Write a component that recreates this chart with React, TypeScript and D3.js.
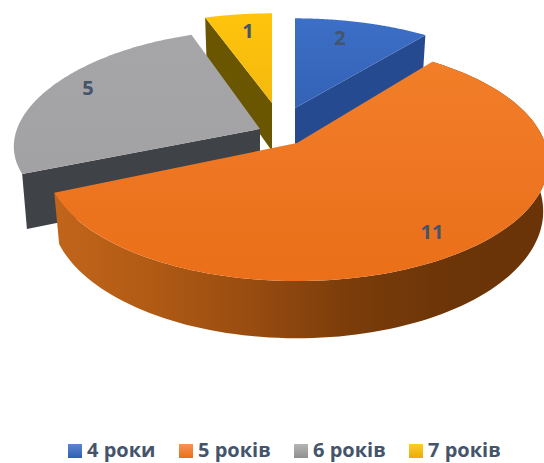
import React from "react";
import * as d3 from "d3";

const categories = ["4 роки", "5 років", "6 років", "7 років"];
const values = [2, 11, 5, 1];

const WIDTH = 544;
const HEIGHT = 463;
const BOTTOM_SHRINK = 0.98;
const TEXT = "#44546a";
const FONT = "'Open Sans', Lato, sans-serif";

// one projection per exploded slice: apex on the page and the horizontal / vertical radii
const apexX = [295, 297, 260, 272];
const apexY = [108, 143, 129, 103];
const radiusX = [239, 248, 243, 237];
const radiusY = [104, 116, 108, 104];
const perspectiveX = [0.16, 0.16, 0.16, 0.16];
const perspectiveY = [0.16, 0.16, 0.09, 0.16];
const depth = [48, 48, 53, 48];
const topFill = ["url(#blueTop)", "url(#orangeTop)", "url(#grayTop)", "url(#yellowTop)"];
const faceFill = ["#264a90", "#8a4510", "#3f4347", "#6a5500"];
const labelX = [340, 432, 88, 248];
const labelY = [45, 239, 95, 38];
const drawOrder = [3, 0, 2, 1];

const legendSwatchX = [68, 179, 294, 409];
const legendTextX = [87, 198, 313, 428];
const legendFill = ["url(#blueKey)", "url(#orangeKey)", "url(#grayKey)", "url(#yellowKey)"];

const arcs = d3.pie<number>().sort(null).startAngle(0).endAngle(2 * Math.PI)(values);

type Pt = [number, number];

function project(i: number, angle: number, r: number, bottom: boolean): Pt {
  const X = r * Math.sin(angle);
  const Y = r * Math.cos(angle);
  const wx = 1 + perspectiveX[i] * Y;
  const wy = 1 + perspectiveY[i] * Y;
  const k = bottom ? BOTTOM_SHRINK : 1;
  const sx = apexX[i] + (k * radiusX[i] * X) / wx;
  const sy = apexY[i] - (radiusY[i] * Y) / wy + (bottom ? depth[i] / wy : 0);
  return [sx, sy];
}

function rim(i: number, from: number, to: number, bottom: boolean): Pt[] {
  return d3.range(0, 121).map((n) => project(i, from + ((to - from) * n) / 120, 1, bottom));
}

const line = d3.line<Pt>().curve(d3.curveLinear);

function polygon(points: Pt[]): string {
  return (line(points) ?? "") + "Z";
}

function Grad({ id, stops, x1 = 0, y1 = 0, x2 = 0, y2 = 1 }: { id: string; stops: string[]; x1?: number; y1?: number; x2?: number; y2?: number }) {
  return (
    <linearGradient id={id} x1={x1} y1={y1} x2={x2} y2={y2}>
      {stops.map((c, i) => (
        <stop key={i} offset={i / (stops.length - 1)} stopColor={c} />
      ))}
    </linearGradient>
  );
}

export default function App() {
  return (
    <svg
      width={WIDTH}
      height={HEIGHT}
      viewBox={`0 0 ${WIDTH} ${HEIGHT}`}
      style={{ position: "absolute", left: 0, top: 0, display: "block", background: "#fff" }}
    >
      <defs>
        <Grad id="blueTop" stops={["#3c6fc6", "#3362b6"]} />
        <Grad id="orangeTop" stops={["#f27e28", "#ee7622", "#ea6f18"]} />
        <Grad id="grayTop" stops={["#a6a6a8", "#a2a1a3"]} />
        <Grad id="yellowTop" stops={["#ffc40c", "#f3b90e"]} />
        <Grad id="orangeWall" x1={0} x2={1} y2={0} stops={["#c2651b", "#b05a14", "#984c10", "#7a3c0a", "#6c3508", "#6a3408"]} />
        <Grad id="blueKey" stops={["#5b85cf", "#2f5fb4"]} />
        <Grad id="orangeKey" stops={["#f4935a", "#ec6f14"]} />
        <Grad id="grayKey" stops={["#b5b5b5", "#8f8f8f"]} />
        <Grad id="yellowKey" stops={["#ffcb2e", "#e8ae00"]} />
      </defs>

      {drawOrder.map((i) => {
        const a = arcs[i];
        const s = a.startAngle;
        const e = a.endAngle;
        const apexTop = project(i, 0, 0, false);
        const apexBottom = project(i, 0, 0, true);
        const faceAngle = i === 0 ? e : s;
        const face: Pt[] = [
          apexTop,
          project(i, faceAngle, 1, false),
          project(i, faceAngle, 1, true),
          apexBottom,
        ];
        return (
          <g key={categories[i]}>
            {i === 1 ? (
              <path
                d={polygon([...rim(i, s, e, false), ...rim(i, s, e, true).reverse()])}
                fill="url(#orangeWall)"
              />
            ) : (
              <path d={polygon(face)} fill={faceFill[i]} />
            )}
            <path d={polygon([apexTop, ...rim(i, s, e, false)])} fill={topFill[i]} />
          </g>
        );
      })}

      {values.map((v, i) => (
        <text
          key={categories[i]}
          x={labelX[i]}
          y={labelY[i]}
          textAnchor="middle"
          fontFamily={FONT}
          fontWeight={700}
          fontSize={20}
          fill={TEXT}
        >
          {v}
        </text>
      ))}

      {categories.map((c, i) => (
        <g key={c}>
          <rect x={legendSwatchX[i]} y={444} width={14} height={14} fill={legendFill[i]} />
          <text x={legendTextX[i]} y={457} fontFamily={FONT} fontWeight={700} fontSize={20} fill={TEXT}>
            {c}
          </text>
        </g>
      ))}
    </svg>
  );
}
